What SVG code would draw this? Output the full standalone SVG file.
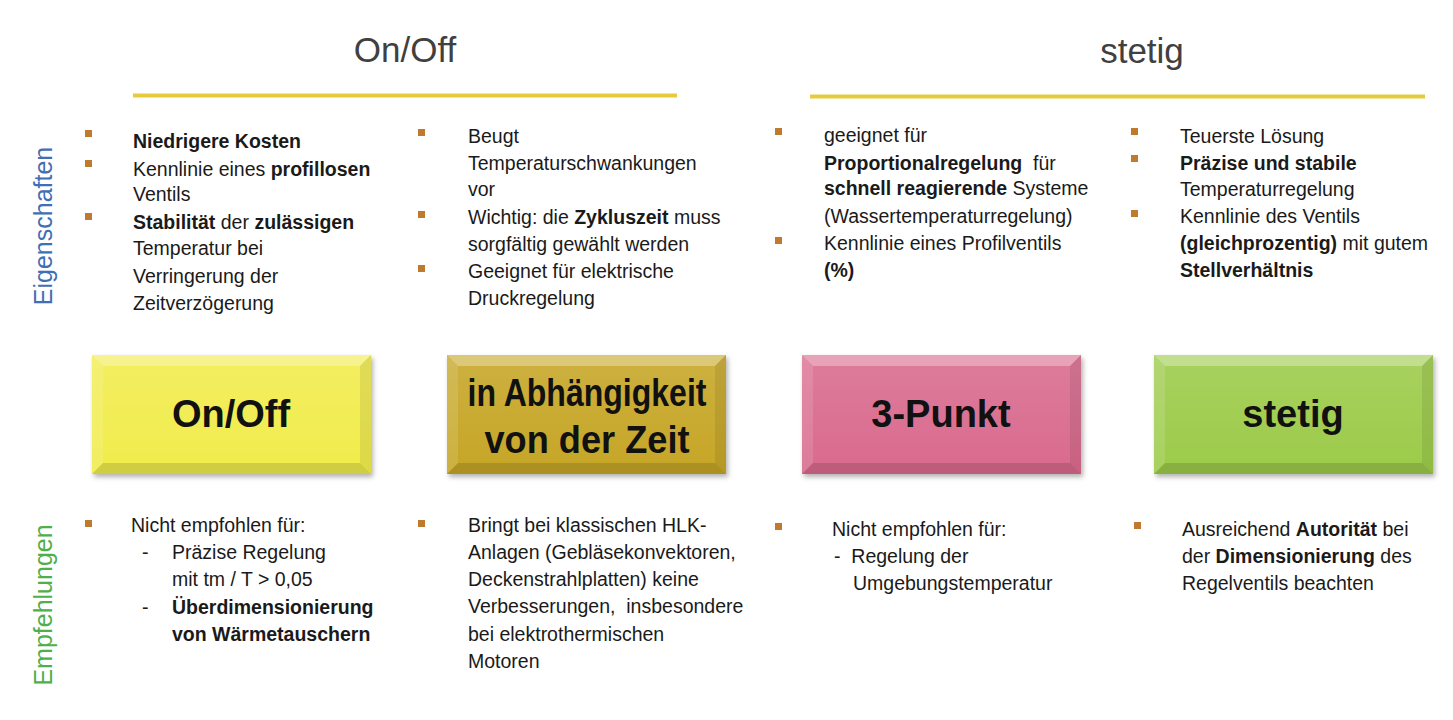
<svg xmlns="http://www.w3.org/2000/svg" xmlns:xlink="http://www.w3.org/1999/xlink" width="1453" height="720" viewBox="0 0 1453 720">
<style>
.hdr{font-family:"Liberation Sans",Arial,sans-serif;font-size:35px;fill:#404040;text-anchor:middle}
.side{font-family:"Liberation Sans",Arial,sans-serif;font-size:25px;text-anchor:middle}
.t{font-family:"Liberation Sans",Arial,sans-serif;font-size:19.5px;fill:#1a1a1a}
.b{font-weight:bold}
.bul{fill:#c07a2e}
.box{font-family:"Liberation Sans",Arial,sans-serif;font-size:38px;font-weight:bold;fill:#111;text-anchor:middle}
.hl{fill:#ffffff;opacity:0.3}
.ll{fill:#ffffff;opacity:0.12}
.rd{fill:#000000;opacity:0.08}
.bd{fill:#000000;opacity:0.13}
</style>
<defs>
<filter id="sh" x="-10%" y="-10%" width="130%" height="140%">
<feDropShadow dx="2" dy="3" stdDeviation="2.5" flood-color="#000" flood-opacity="0.3"/>
</filter>
<filter id="lsh" x="-5%" y="-200%" width="110%" height="500%">
<feGaussianBlur stdDeviation="1.2"/>
</filter>
<linearGradient id="face" x1="0" y1="0" x2="0" y2="1">
<stop offset="0" stop-color="#fff" stop-opacity="0.12"/>
<stop offset="1" stop-color="#fff" stop-opacity="0"/>
</linearGradient>
<g id="bevel">
<rect x="0" y="0" width="279" height="119" fill="url(#face)"/>
<polygon class="hl" points="0,0 279,0 268,11 11,11"/>
<polygon class="ll" points="0,0 11,11 11,108 0,119"/>
<polygon class="rd" points="279,0 279,119 268,108 268,11"/>
<polygon class="bd" points="0,119 11,108 268,108 279,119"/>
</g>
</defs>
<rect width="1453" height="720" fill="#ffffff"/>

<g id="header-onoff">
<text class="hdr" x="405" y="62">On/Off</text>
<line x1="133" y1="98" x2="677" y2="98" stroke="#9a9a9a" stroke-width="3" filter="url(#lsh)"/>
<line x1="133" y1="95.5" x2="677" y2="95.5" stroke="#e6cb3c" stroke-width="4"/>
</g>
<g id="header-stetig">
<text class="hdr" x="1142" y="63">stetig</text>
<line x1="810" y1="99" x2="1425" y2="99" stroke="#9a9a9a" stroke-width="3" filter="url(#lsh)"/>
<line x1="810" y1="96.5" x2="1425" y2="96.5" stroke="#e6cb3c" stroke-width="4"/>
</g>

<g id="label-eigenschaften">
<text class="side" fill="#3f6fb5" transform="translate(52,226) rotate(-90)">Eigenschaften</text>
</g>
<g id="label-empfehlungen">
<text class="side" fill="#4faf4a" transform="translate(52,605) rotate(-90)">Empfehlungen</text>
</g>

<g id="props-onoff">
<rect class="bul" x="85" y="130" width="7" height="7"/>
<rect class="bul" x="85" y="160" width="7" height="7"/>
<rect class="bul" x="85" y="213" width="7" height="7"/>
<text class="t" x="133" y="148"><tspan class="b">Niedrigere Kosten</tspan></text>
<text class="t" x="133" y="176">Kennlinie eines <tspan class="b">profillosen</tspan></text>
<text class="t" x="133" y="201">Ventils</text>
<text class="t" x="133" y="229"><tspan class="b">Stabilität</tspan> der <tspan class="b">zulässigen</tspan></text>
<text class="t" x="133" y="255">Temperatur bei</text>
<text class="t" x="133" y="283">Verringerung der</text>
<text class="t" x="133" y="310">Zeitverzögerung</text>
</g>

<g id="props-zeit">
<rect class="bul" x="418" y="129" width="7" height="7"/>
<rect class="bul" x="418" y="211" width="7" height="7"/>
<rect class="bul" x="418" y="265" width="7" height="7"/>
<text class="t" x="468" y="143">Beugt</text>
<text class="t" x="468" y="170">Temperaturschwankungen</text>
<text class="t" x="468" y="196">vor</text>
<text class="t" x="468" y="224">Wichtig: die <tspan class="b">Zykluszeit</tspan> muss</text>
<text class="t" x="468" y="251">sorgfältig gewählt werden</text>
<text class="t" x="468" y="278">Geeignet für elektrische</text>
<text class="t" x="468" y="305">Druckregelung</text>
</g>

<g id="props-3punkt">
<rect class="bul" x="775" y="128" width="7" height="7"/>
<rect class="bul" x="775" y="237" width="7" height="7"/>
<text class="t" x="824" y="142">geeignet für</text>
<text class="t" x="824" y="170"><tspan class="b">Proportionalregelung</tspan>&#160; für</text>
<text class="t" x="824" y="195"><tspan class="b">schnell reagierende</tspan> Systeme</text>
<text class="t" x="824" y="223">(Wassertemperaturregelung)</text>
<text class="t" x="824" y="250">Kennlinie eines Profilventils</text>
<text class="t" x="824" y="277"><tspan class="b">(%)</tspan></text>
</g>

<g id="props-stetig">
<rect class="bul" x="1131" y="128" width="7" height="7"/>
<rect class="bul" x="1131" y="155" width="7" height="7"/>
<rect class="bul" x="1131" y="210" width="7" height="7"/>
<text class="t" x="1180" y="143">Teuerste Lösung</text>
<text class="t" x="1180" y="170"><tspan class="b">Präzise und stabile</tspan></text>
<text class="t" x="1180" y="196">Temperaturregelung</text>
<text class="t" x="1180" y="223">Kennlinie des Ventils</text>
<text class="t" x="1180" y="250"><tspan class="b">(gleichprozentig)</tspan> mit gutem</text>
<text class="t" x="1180" y="277"><tspan class="b">Stellverhältnis</tspan></text>
</g>

<g id="node-onoff">
<rect x="92" y="355" width="279" height="119" fill="#f1ec4c" filter="url(#sh)"/>
<use xlink:href="#bevel" x="92" y="355"/>
<text class="box" x="231" y="427">On/Off</text>
</g>
<g id="node-zeit">
<rect x="447" y="355" width="279" height="119" fill="#c6a626" filter="url(#sh)"/>
<use xlink:href="#bevel" x="447" y="355"/>
<text class="box" x="587" y="406" font-size="39" textLength="239" lengthAdjust="spacingAndGlyphs">in Abhängigkeit</text>
<text class="box" x="587" y="453" font-size="39" textLength="205" lengthAdjust="spacingAndGlyphs">von der Zeit</text>
</g>
<g id="node-3punkt">
<rect x="802" y="355" width="279" height="119" fill="#d96b8e" filter="url(#sh)"/>
<use xlink:href="#bevel" x="802" y="355"/>
<text class="box" x="941" y="427">3-Punkt</text>
</g>
<g id="node-stetig">
<rect x="1154" y="355" width="279" height="119" fill="#9ccb48" filter="url(#sh)"/>
<use xlink:href="#bevel" x="1154" y="355"/>
<text class="box" x="1293" y="427">stetig</text>
</g>

<g id="rec-onoff">
<rect class="bul" x="85" y="520" width="7" height="7"/>
<text class="t" x="131" y="532">Nicht empfohlen für:</text>
<text class="t" x="142" y="559">-</text>
<text class="t" x="172" y="559">Präzise Regelung</text>
<text class="t" x="172" y="586">mit tm / T &gt; 0,05</text>
<text class="t" x="142" y="614">-</text>
<text class="t b" x="172" y="614">Überdimensionierung</text>
<text class="t b" x="172" y="641">von Wärmetauschern</text>
</g>

<g id="rec-zeit">
<rect class="bul" x="418" y="520" width="7" height="7"/>
<text class="t" x="468" y="532">Bringt bei klassischen HLK-</text>
<text class="t" x="468" y="559">Anlagen (Gebläsekonvektoren,</text>
<text class="t" x="468" y="586">Deckenstrahlplatten) keine</text>
<text class="t" x="468" y="613">Verbesserungen,&#160; insbesondere</text>
<text class="t" x="468" y="641">bei elektrothermischen</text>
<text class="t" x="468" y="668">Motoren</text>
</g>

<g id="rec-3punkt">
<rect class="bul" x="775" y="523" width="7" height="7"/>
<text class="t" x="832" y="536">Nicht empfohlen für:</text>
<text class="t" x="834" y="563">-&#160; Regelung der</text>
<text class="t" x="853" y="590">Umgebungstemperatur</text>
</g>

<g id="rec-stetig">
<rect class="bul" x="1134" y="522" width="7" height="7"/>
<text class="t" x="1182" y="536">Ausreichend <tspan class="b">Autorität</tspan> bei</text>
<text class="t" x="1182" y="563">der <tspan class="b">Dimensionierung</tspan> des</text>
<text class="t" x="1182" y="590">Regelventils beachten</text>
</g>
</svg>
